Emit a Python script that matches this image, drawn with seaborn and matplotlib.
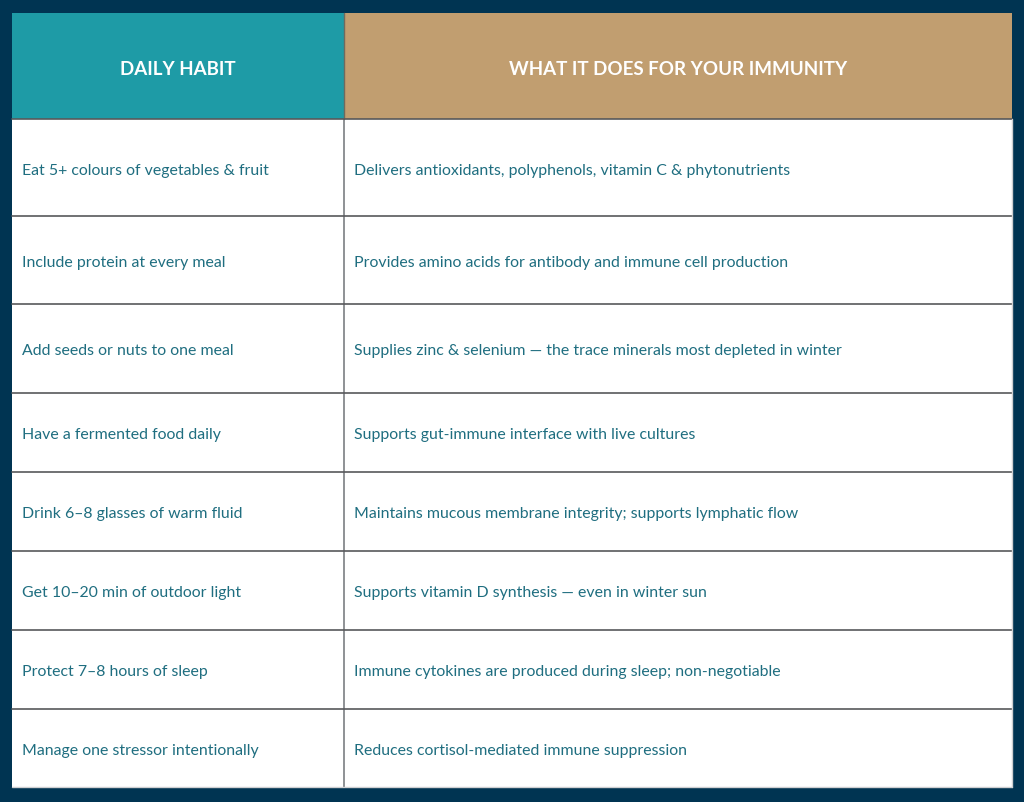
import matplotlib
matplotlib.use("Agg")
import matplotlib.pyplot as plt
import seaborn as sns
from matplotlib.patches import Rectangle

# =============================
# Table content
# =============================
HEADERS = ["DAILY HABIT", "WHAT IT DOES FOR YOUR IMMUNITY"]

HABITS = [
    "Eat 5+ colours of vegetables & fruit",
    "Include protein at every meal",
    "Add seeds or nuts to one meal",
    "Have a fermented food daily",
    "Drink 6\u20138 glasses of warm fluid",
    "Get 10\u201320 min of outdoor light",
    "Protect 7\u20138 hours of sleep",
    "Manage one stressor intentionally",
]

EFFECTS = [
    "Delivers antioxidants, polyphenols, vitamin C & phytonutrients",
    "Provides amino acids for antibody and immune cell production",
    "Supplies zinc & selenium \u2014 the trace minerals most depleted in winter",
    "Supports gut-immune interface with live cultures",
    "Maintains mucous membrane integrity; supports lymphatic flow",
    "Supports vitamin D synthesis \u2014 even in winter sun",
    "Immune cytokines are produced during sleep; non-negotiable",
    "Reduces cortisol-mediated immune suppression",
]

# =============================
# Layout (pixel coords)
# =============================
W, H = 1024, 803
LEFT, MID, RIGHT = 12, 344, 1012
ROW_EDGES = [14, 119.5, 216.5, 304.5, 393.5, 472.5, 551.5, 630.5, 709.5, 788]
TEXT_DY = 2.5  # baseline nudge so glyphs sit like the reference

BG = "#003452"
TEAL = "#1e9ba6"
TAN = "#c19e70"
TEXT = "#1f6e80"
HLINE = "#58595b"
VLINE = "#7c7f83"

sns.set_theme(style="white")
plt.rcParams["font.family"] = ["Lato", "DejaVu Sans"]

fig = plt.figure(figsize=(W / 100, H / 100), dpi=100, facecolor=BG)
ax = fig.add_axes([0, 0, 1, 1])
ax.set_xlim(0, W)
ax.set_ylim(H, 0)
ax.axis("off")
ax.set_facecolor(BG)

top, hdr_bot, bottom = ROW_EDGES[0], ROW_EDGES[1], ROW_EDGES[-1]

# header cells
ax.add_patch(Rectangle((LEFT, top), MID - LEFT, hdr_bot - top, color=TEAL, lw=0))
ax.add_patch(Rectangle((MID, top), RIGHT - MID, hdr_bot - top, color=TAN, lw=0))
# body
ax.add_patch(Rectangle((LEFT, hdr_bot), RIGHT - LEFT, bottom - hdr_bot,
                       color="white", lw=0))

hy = (top + hdr_bot) / 2 + TEXT_DY
ax.text((LEFT + MID) / 2, hy, HEADERS[0], color="white", fontsize=13.5,
        fontweight="bold", ha="center", va="center")
ax.text((MID + RIGHT) / 2, hy, HEADERS[1], color="white", fontsize=13.5,
        fontweight="bold", ha="center", va="center")

# grid lines
ax.plot([MID, MID], [hdr_bot, bottom], color=VLINE, lw=1.2)
ax.plot([MID, MID], [top, hdr_bot], color="#6e6a5e", lw=1.0)
for y in ROW_EDGES[1:-1]:
    ax.plot([LEFT, RIGHT], [y, y], color=HLINE, lw=1.2)
ax.plot([RIGHT, RIGHT], [hdr_bot, bottom], color="#cfd0d2", lw=1.0)
ax.plot([LEFT, RIGHT], [bottom, bottom], color="#cfd0d2", lw=1.0)

# body text
for i, (habit, effect) in enumerate(zip(HABITS, EFFECTS)):
    y = (ROW_EDGES[i + 1] + ROW_EDGES[i + 2]) / 2 + TEXT_DY
    ax.text(LEFT + 10, y, habit, color=TEXT, fontsize=11.4,
            ha="left", va="center")
    ax.text(MID + 10, y, effect, color=TEXT, fontsize=11.4,
            ha="left", va="center")

fig.savefig("out.png", dpi=100, facecolor=BG)
